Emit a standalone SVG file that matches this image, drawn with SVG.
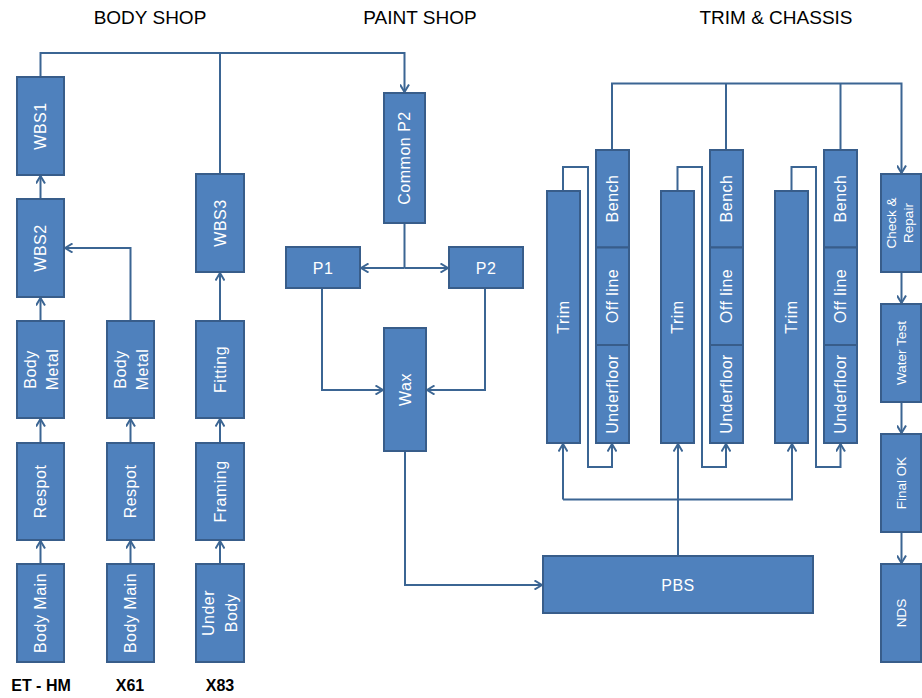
<svg xmlns="http://www.w3.org/2000/svg" width="922" height="698" viewBox="0 0 922 698">
<style>
.box{fill:#4F81BD;stroke:#385D8A;stroke-width:2}
.t{font-family:"Liberation Sans",Arial,sans-serif;font-size:16px;fill:#fff;letter-spacing:0.5px;text-anchor:middle}
.s{font-family:"Liberation Sans",Arial,sans-serif;font-size:13.5px;fill:#fff;text-anchor:middle}
.h{font-family:"Liberation Sans",Arial,sans-serif;font-size:19px;fill:#000;text-anchor:middle}
.b{font-family:"Liberation Sans",Arial,sans-serif;font-size:16px;font-weight:bold;fill:#000;text-anchor:middle}
.c{fill:none;stroke:#3B6593;stroke-width:2}
.a{marker-end:url(#arr)}
</style>
<defs>
<marker id="arr" viewBox="0 0 10 10" markerWidth="10" markerHeight="10" refX="9" refY="5" orient="auto" markerUnits="userSpaceOnUse">
<path d="M1.5,0.5 L9,5 L1.5,9.5" fill="none" stroke="#3B6593" stroke-width="2"/>
</marker>
</defs>
<rect width="922" height="698" fill="#fff"/>
<g id="headers">
<text class="h" x="150" y="24">BODY SHOP</text>
<text class="h" x="420" y="24">PAINT SHOP</text>
<text class="h" x="776" y="24">TRIM &amp; CHASSIS</text>
<text class="b" x="41" y="691">ET - HM</text>
<text class="b" x="130" y="691">X61</text>
<text class="b" x="220" y="691">X83</text>
</g>
<g id="connectors">
<polyline class="c a" points="40.5,77 40.5,53 404.5,53 404.5,92"/>
<line class="c" x1="220" y1="174" x2="220" y2="53"/>
<line class="c a" x1="40.5" y1="199" x2="40.5" y2="176"/>
<line class="c a" x1="40.5" y1="321" x2="40.5" y2="298"/>
<line class="c a" x1="40.5" y1="443" x2="40.5" y2="419"/>
<line class="c a" x1="40.5" y1="564" x2="40.5" y2="541"/>
<line class="c a" x1="130.5" y1="564" x2="130.5" y2="541"/>
<line class="c a" x1="130.5" y1="443" x2="130.5" y2="419"/>
<polyline class="c a" points="130.5,321 130.5,248 65,248"/>
<line class="c a" x1="220" y1="564" x2="220" y2="541"/>
<line class="c a" x1="220" y1="443" x2="220" y2="419"/>
<line class="c a" x1="220" y1="321" x2="220" y2="273"/>
<line class="c" x1="404.5" y1="223" x2="404.5" y2="268"/>
<line class="c a" x1="404.5" y1="268" x2="361" y2="268"/>
<line class="c a" x1="404.5" y1="268" x2="448" y2="268"/>
<polyline class="c a" points="322,288 322,390 383,390"/>
<polyline class="c a" points="485,288 485,390 427,390"/>
<polyline class="c a" points="405,451 405,585 542,585"/>
<line class="c" x1="678" y1="556" x2="678" y2="499.5"/>
<polyline class="c a" points="563,499.5 563,444"/>
<polyline class="c a" points="563,499.5 792,499.5 792,444"/>
<line class="c a" x1="678" y1="499.5" x2="678" y2="444"/>
<polyline class="c a" points="563,191 563,167 588,167 588,467 612,467 612,444"/>
<polyline class="c a" points="677.5,191 677.5,167 702,167 702,467 726,467 726,444"/>
<polyline class="c a" points="791.5,191 791.5,167 816,167 816,467 840.5,467 840.5,444"/>
<polyline class="c a" points="612,150 612,83.5 901.5,83.5 901.5,173"/>
<line class="c" x1="726" y1="150" x2="726" y2="83.5"/>
<line class="c" x1="840.5" y1="150" x2="840.5" y2="83.5"/>
<line class="c a" x1="901.5" y1="272" x2="901.5" y2="303"/>
<line class="c a" x1="901.5" y1="402" x2="901.5" y2="433"/>
<line class="c a" x1="901.5" y1="532" x2="901.5" y2="563"/>
</g>
<g id="wbs1"><rect class="box" x="17" y="77" width="47" height="98"/><text class="t" transform="translate(40.5,126) rotate(-90)" y="5.5">WBS1</text></g>
<g id="wbs2"><rect class="box" x="17" y="199" width="47" height="98"/><text class="t" transform="translate(40.5,248) rotate(-90)" y="5.5">WBS2</text></g>
<g id="wbs3"><rect class="box" x="196" y="174" width="48" height="98"/><text class="t" transform="translate(220,223) rotate(-90)" y="5.5">WBS3</text></g>
<g id="bodymetal1"><rect class="box" x="17" y="321" width="47" height="97"/><text class="t" transform="translate(40.5,369.5) rotate(-90)"><tspan x="0" y="-4.5">Body</tspan><tspan x="0" y="17">Metal</tspan></text></g>
<g id="respot1"><rect class="box" x="17" y="443" width="47" height="97"/><text class="t" transform="translate(40.5,491.5) rotate(-90)" y="5.5">Respot</text></g>
<g id="bodymain1"><rect class="box" x="17" y="564" width="47" height="98"/><text class="t" transform="translate(40.5,613) rotate(-90)" y="5.5">Body Main</text></g>
<g id="bodymetal2"><rect class="box" x="107" y="321" width="47" height="97"/><text class="t" transform="translate(130.5,369.5) rotate(-90)"><tspan x="0" y="-4.5">Body</tspan><tspan x="0" y="17">Metal</tspan></text></g>
<g id="respot2"><rect class="box" x="107" y="443" width="47" height="97"/><text class="t" transform="translate(130.5,491.5) rotate(-90)" y="5.5">Respot</text></g>
<g id="bodymain2"><rect class="box" x="107" y="564" width="47" height="98"/><text class="t" transform="translate(130.5,613) rotate(-90)" y="5.5">Body Main</text></g>
<g id="fitting"><rect class="box" x="196" y="321" width="48" height="97"/><text class="t" transform="translate(220,369.5) rotate(-90)" y="5.5">Fitting</text></g>
<g id="framing"><rect class="box" x="196" y="443" width="48" height="97"/><text class="t" transform="translate(220,491.5) rotate(-90)" y="5.5">Framing</text></g>
<g id="underbody"><rect class="box" x="196" y="564" width="48" height="98"/><text class="t" transform="translate(220,613) rotate(-90)"><tspan x="0" y="-6">Under</tspan><tspan x="0" y="17">Body</tspan></text></g>
<g id="commonp2"><rect class="box" x="384" y="93" width="41" height="130"/><text class="t" transform="translate(404.5,158) rotate(-90)" y="5.5">Common P2</text></g>
<g id="p1"><rect class="box" x="286" y="247" width="74" height="41"/><text class="t" x="323" y="273.5">P1</text></g>
<g id="p2"><rect class="box" x="449" y="247" width="74" height="41"/><text class="t" x="486" y="273.5">P2</text></g>
<g id="wax"><rect class="box" x="384" y="328" width="42" height="123"/><text class="t" transform="translate(405,389.5) rotate(-90)" y="5.5">Wax</text></g>
<g id="pbs"><rect class="box" x="543" y="556" width="270" height="57"/><text class="t" x="678" y="590.5">PBS</text></g>
<g id="trim1"><rect class="box" x="547" y="191" width="33" height="252"/><text class="t" transform="translate(563.5,317) rotate(-90)" y="5.5">Trim</text></g>
<g id="trim2"><rect class="box" x="661" y="191" width="33" height="252"/><text class="t" transform="translate(677.5,317) rotate(-90)" y="5.5">Trim</text></g>
<g id="trim3"><rect class="box" x="775" y="191" width="33" height="252"/><text class="t" transform="translate(791.5,317) rotate(-90)" y="5.5">Trim</text></g>
<g id="bench1"><rect class="box" x="596" y="150" width="33" height="97.5"/><text class="t" transform="translate(612.5,198.5) rotate(-90)" y="5.5">Bench</text></g>
<g id="offline1"><rect class="box" x="596" y="247.5" width="33" height="97.5"/><text class="t" transform="translate(612.5,296) rotate(-90)" y="5.5">Off line</text></g>
<g id="underfloor1"><rect class="box" x="596" y="345" width="33" height="98"/><text class="t" transform="translate(612.5,394) rotate(-90)" y="5.5">Underfloor</text></g>
<g id="bench2"><rect class="box" x="710" y="150" width="33" height="97.5"/><text class="t" transform="translate(726.5,198.5) rotate(-90)" y="5.5">Bench</text></g>
<g id="offline2"><rect class="box" x="710" y="247.5" width="33" height="97.5"/><text class="t" transform="translate(726.5,296) rotate(-90)" y="5.5">Off line</text></g>
<g id="underfloor2"><rect class="box" x="710" y="345" width="33" height="98"/><text class="t" transform="translate(726.5,394) rotate(-90)" y="5.5">Underfloor</text></g>
<g id="bench3"><rect class="box" x="824" y="150" width="33" height="97.5"/><text class="t" transform="translate(840.5,198.5) rotate(-90)" y="5.5">Bench</text></g>
<g id="offline3"><rect class="box" x="824" y="247.5" width="33" height="97.5"/><text class="t" transform="translate(840.5,296) rotate(-90)" y="5.5">Off line</text></g>
<g id="underfloor3"><rect class="box" x="824" y="345" width="33" height="98"/><text class="t" transform="translate(840.5,394) rotate(-90)" y="5.5">Underfloor</text></g>
<g id="checkrepair"><rect class="box" x="881" y="174" width="40" height="98"/><text class="s" transform="translate(901,223) rotate(-90)"><tspan x="0" y="-5">Check &amp;</tspan><tspan x="0" y="12">Repair</tspan></text></g>
<g id="watertest"><rect class="box" x="881" y="304" width="40" height="98"/><text class="s" transform="translate(901,353) rotate(-90)" y="5">Water Test</text></g>
<g id="finalok"><rect class="box" x="881" y="434" width="40" height="98"/><text class="s" transform="translate(901,483) rotate(-90)" y="5">Final OK</text></g>
<g id="nds"><rect class="box" x="881" y="564" width="40" height="98"/><text class="s" transform="translate(901,613) rotate(-90)" y="5">NDS</text></g>
</svg>
